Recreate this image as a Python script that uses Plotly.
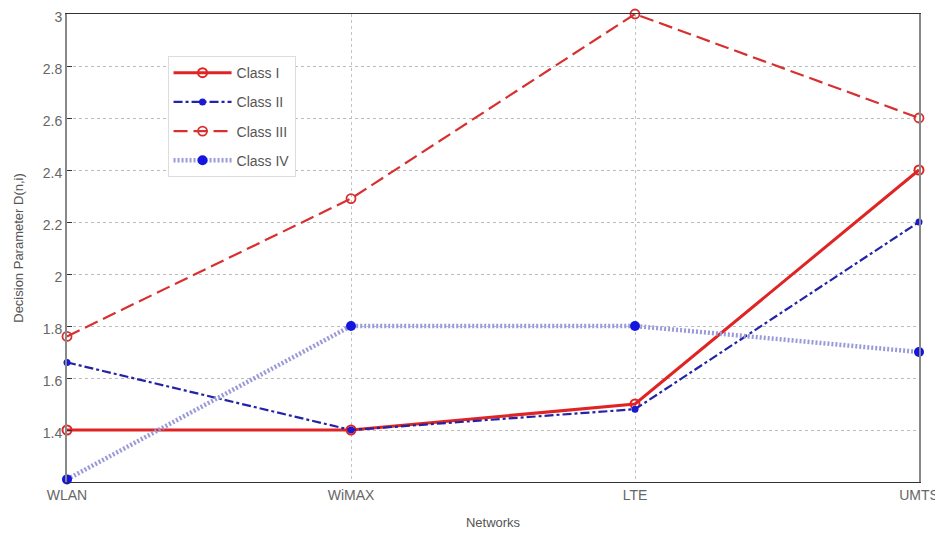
import plotly.graph_objects as go

networks = ["WLAN", "WiMAX", "LTE", "UMTS"]
class_i = [1.40, 1.40, 1.50, 2.40]
class_ii = [1.66, 1.40, 1.48, 2.20]
class_iii = [1.76, 2.29, 3.00, 2.60]
class_iv = [1.21, 1.80, 1.80, 1.70]
yticks = [1.4, 1.6, 1.8, 2.0, 2.2, 2.4, 2.6, 2.8, 3.0]
ytick_text = ["1.4", "1.6", "1.8", "2", "2.2", "2.4", "2.6", "2.8", "3"]

fig = go.Figure()
fig.add_trace(go.Scatter(x=networks, y=class_i, name="Class I", mode="lines+markers", legendgroup="a",
                         line=dict(color="#e02424", width=3),
                         marker=dict(symbol="circle-open", size=9, color="#e02424", line=dict(width=2))))
fig.add_trace(go.Scatter(x=networks, y=class_ii, name="Class II", mode="lines+markers", legendgroup="b",
                         line=dict(color="#2323a8", width=2.2, dash="dashdot"),
                         marker=dict(symbol="circle", size=7, color="#1a1ad0")))
fig.add_trace(go.Scatter(x=networks, y=class_iii, name="Class III", mode="lines+markers", legendgroup="c",
                         line=dict(color="#d83030", width=2.2, dash="14px,6px"),
                         marker=dict(symbol="circle-open", size=9, color="#d83030", line=dict(width=1.8))))
fig.add_trace(go.Scatter(x=networks, y=class_iv, name="Class IV", mode="lines+markers", legendgroup="d",
                         line=dict(color="#9a9ad8", width=4.5, dash="2px,2px"),
                         marker=dict(symbol="circle", size=10, color="#1515e0")))
for tr in fig.data:
    tr.cliponaxis = False

fig.update_layout(
    width=935, height=528,
    margin=dict(l=59, r=24, t=6, b=54),
    paper_bgcolor="white", plot_bgcolor="white",
    font=dict(family="Liberation Sans, Arial, sans-serif", color="#555555", size=13),
    showlegend=True,
    legend=dict(x=0.118, y=0.91, xanchor="left", yanchor="top",
                bgcolor="white", bordercolor="#dddddd", borderwidth=1,
                font=dict(size=14, color="#555555"), tracegroupgap=8, itemwidth=58),
    xaxis=dict(
        type="category", range=[0, 3], showgrid=True, gridcolor="#c4c4c4",
        griddash="dot", gridwidth=1, showline=True, linecolor="#333333", linewidth=1,
        mirror=True, ticks="", tickfont=dict(size=14, color="#666666"),
        ticklabeloverflow="allow",
        title=dict(text="Networks", font=dict(size=13, color="#555555"), standoff=16),
        zeroline=False, automargin=False,
    ),
    yaxis=dict(
        range=[1.2, 3.0], tickvals=yticks, ticktext=ytick_text, showgrid=True,
        gridcolor="#bcbcbc", griddash="dot", gridwidth=1, showline=True,
        linecolor="#888888", linewidth=2, mirror=True, ticks="inside", ticklen=5,
        tickcolor="#333333", tickfont=dict(size=14, color="#666666"),
        ticklabeloverflow="allow", ticklabelshift=3,
        title=dict(text="Decision Parameter D(n,i)", font=dict(size=13, color="#555555"), standoff=16),
        zeroline=False, automargin=False,
    ),
)

fig.write_html("out.html")
